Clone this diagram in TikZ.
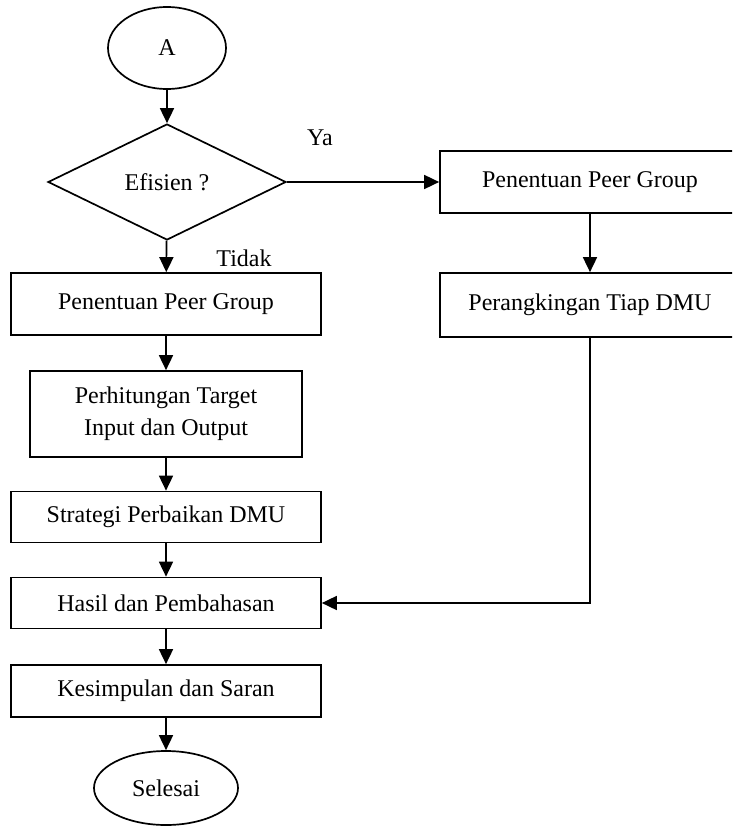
\documentclass[tikz,border=0pt]{standalone}
\usepackage{fontspec}
\setmainfont{Liberation Serif}
\usetikzlibrary{shapes.geometric,arrows.meta}

\tikzset{
  flowbox/.style={draw, line width=1.7pt, rectangle, inner sep=0pt, align=center},
  ovalnode/.style={draw, line width=1.7pt, ellipse, inner sep=0pt},
  decide/.style={draw, line width=1.7pt, diamond, inner sep=0pt},
  arr/.style={line width=1.7pt, -{Triangle[length=15pt,width=14pt]}},
  lbl/.style={inner sep=0pt}
}

\begin{document}
\begin{tikzpicture}[x=1pt, y=-1pt, font=\fontsize{24}{32}\selectfont]

\clip (0,0) rectangle (732,829);

%% left column
\node[ovalnode, minimum width=118pt, minimum height=82pt] (start) at (167,48) {A};
\node[decide, minimum width=238pt, minimum height=116pt] (eff) at (167,182) {Efisien ?};
\node[flowbox, minimum width=310pt, minimum height=62pt] (box1) at (166,304) {Penentuan Peer Group};
\node[flowbox, minimum width=272pt, minimum height=86pt] (box2) at (166,414) {Perhitungan Target\\Input dan Output};
\node[flowbox, minimum width=310pt, minimum height=51pt] (box3) at (166,517) {Strategi Perbaikan DMU};
\node[flowbox, minimum width=310pt, minimum height=51pt] (box4) at (166,603) {Hasil dan Pembahasan};
\node[flowbox, minimum width=310pt, minimum height=52pt] (box5) at (166,691) {Kesimpulan dan Saran};
\node[ovalnode, minimum width=144pt, minimum height=74pt] (stop) at (166,788) {Selesai};

%% right column
\node[flowbox, minimum width=300pt, minimum height=62pt] (peer) at (590,182) {Penentuan Peer Group};
\node[flowbox, minimum width=300pt, minimum height=64pt] (rank) at (590,305) {Perangkingan Tiap DMU};

%% labels
\node[lbl] (ya) at (320,138) {Ya};
\node[lbl] (tidak) at (244,258) {Tidak};

%% arrows
\draw[arr] (start) -- (eff);
\draw[arr] (eff) -- (box1);
\foreach \u/\v in {box1/box2, box2/box3, box3/box4, box4/box5, box5/stop}
  {
    \draw[arr] (\u) -- (\v);
  }
\draw[arr] (eff.east) -- (peer.west);
\draw[arr] (peer) -- (rank);
\draw[arr] (rank.south) |- (box4.east);

\end{tikzpicture}
\end{document}
